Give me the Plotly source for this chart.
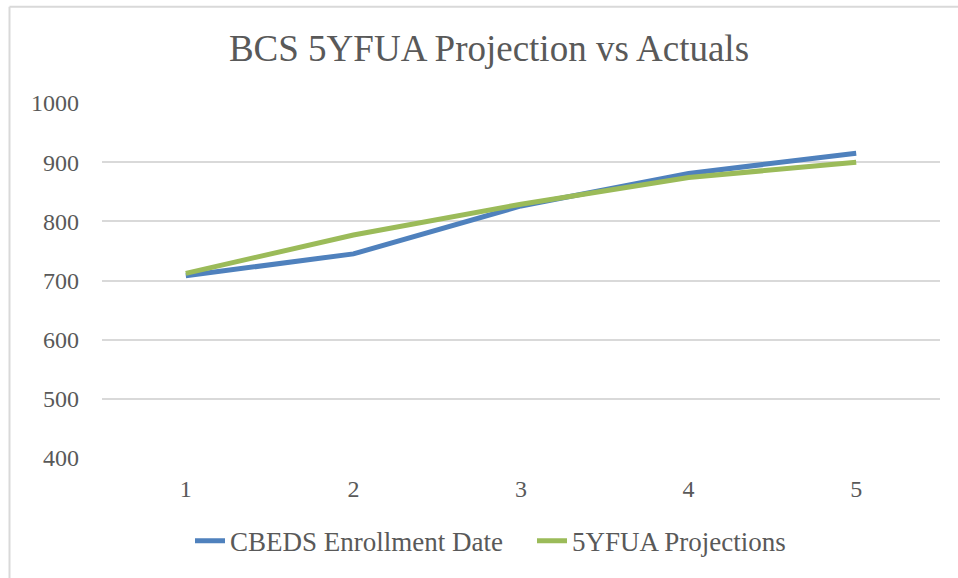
import plotly.graph_objects as go

categories = [1, 2, 3, 4, 5]
cbeds_enrollment = [708, 745, 826, 881, 915]
projections_5yfua = [712, 777, 829, 874, 900]
y_ticks = [400, 500, 600, 700, 800, 900, 1000]

FONT = "Liberation Serif, DejaVu Serif, serif"
TXT = "#595959"
GRID = "#D9D9D9"

fig = go.Figure()
fig.add_trace(go.Scatter(x=categories, y=cbeds_enrollment, mode="lines",
                         name="CBEDS Enrollment Date",
                         line=dict(color="#4F81BD", width=5)))
fig.add_trace(go.Scatter(x=categories, y=projections_5yfua, mode="lines",
                         name="5YFUA Projections",
                         line=dict(color="#9BBB59", width=5)))

L, R, T, B = 102, 18, 103, 117
W, H = 958, 578
pw, ph = W - L - R, H - T - B

def px_x(v):
    return (v - L) / pw

def px_y(v):
    return (H - B - v) / ph

fig.update_layout(
    width=W, height=H,
    margin=dict(l=L, r=R, t=T, b=B),
    paper_bgcolor="white", plot_bgcolor="white",
    font=dict(family=FONT, color=TXT, size=24),
    title=dict(text="BCS 5YFUA Projection vs Actuals", xref="container", yref="container",
               x=489 / W, y=1 - 48 / H, xanchor="center", yanchor="middle",
               font=dict(size=37, color=TXT, family=FONT)),
    xaxis=dict(range=[0.5, 5.5], tickvals=categories, ticktext=[str(c) for c in categories],
               showgrid=False, zeroline=False, showline=False, ticks="",
               tickfont=dict(size=24, color=TXT), ticklabelstandoff=14),
    yaxis=dict(range=[400, 1000], tickvals=y_ticks, showgrid=True, gridcolor=GRID, gridwidth=2,
               zeroline=False, showline=False, ticks="",
               tickfont=dict(size=24, color=TXT), ticklabelstandoff=22),
    legend=dict(orientation="h", x=px_x(190), y=px_y(545), xanchor="left", yanchor="middle",
                font=dict(size=27, color=TXT), bgcolor="rgba(0,0,0,0)", itemwidth=30,
                entrywidth=297, tracegroupgap=0),
    showlegend=True,
    shapes=[
        dict(type="line", xref="paper", yref="paper", x0=px_x(9.5), x1=px_x(1000),
             y0=px_y(6), y1=px_y(6), line=dict(color=GRID, width=2)),
        dict(type="line", xref="paper", yref="paper", x0=px_x(9.5), x1=px_x(9.5),
             y0=px_y(6), y1=px_y(620), line=dict(color=GRID, width=2)),
    ],
)

fig.write_html("out.html", config={"displayModeBar": False},
               post_script="document.body.style.margin='0';")
